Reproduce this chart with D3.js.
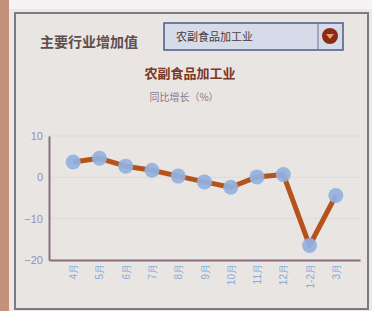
<!DOCTYPE html>
<html>
<head>
<meta charset="utf-8">
<script src="https://cdn.jsdelivr.net/npm/d3@7"></script>
<style>
  body { margin: 0; background: #efeceb; }
  svg { display: block; font-family: "Noto Sans CJK SC", sans-serif; }
</style>
</head>
<body>
<svg width="372" height="311"></svg>
<script>
let months = ["4月", "5月", "6月", "7月", "8月", "9月", "10月", "11月", "12月", "1-2月", "3月"];
let growth = [3.7, 4.6, 2.7, 1.7, 0.3, -1.1, -2.4, 0.1, 0.7, -16.5, -4.4];
let yTicks = [10, 0, -10, -20];
let industry = "农副食品加工业";

var svg = d3.select("svg"),
    width = +svg.attr("width"),
    height = +svg.attr("height");

// page frame
svg.append("rect").attr("width", width).attr("height", height).attr("fill", "#ece8e6");
svg.append("rect").attr("width", width).attr("height", 9).attr("fill", "#f6f4f2");
svg.append("rect").attr("x", 0).attr("y", 0).attr("width", 9).attr("height", height).attr("fill", "#c4917a");
svg.append("rect")
    .attr("x", 15).attr("y", 13)
    .attr("width", 353).attr("height", 296)
    .attr("fill", "#e9e5e3")
    .attr("stroke", "#7c7a80")
    .attr("stroke-width", 2);

// selector row
svg.append("text")
    .attr("x", 40).attr("y", 47)
    .attr("font-size", 14).attr("font-weight", "bold")
    .attr("fill", "#5e4e4c")
    .text("主要行业增加值");

svg.append("rect")
    .attr("x", 164).attr("y", 23)
    .attr("width", 179).attr("height", 27)
    .attr("fill", "#d6dbe9")
    .attr("stroke", "#4c5a88")
    .attr("stroke-width", 1.5);
svg.append("line")
    .attr("x1", 318).attr("x2", 318).attr("y1", 23).attr("y2", 50)
    .attr("stroke", "#6a7494");
svg.append("text")
    .attr("x", 176).attr("y", 41)
    .attr("font-size", 11)
    .attr("fill", "#4a3c40")
    .text(industry);
svg.append("circle")
    .attr("cx", 330).attr("cy", 36).attr("r", 8)
    .attr("fill", "#8a2c14");
svg.append("path")
    .attr("d", "M326,34 L334,34 L330,39 Z")
    .attr("fill", "#f0a070");

// titles
svg.append("text")
    .attr("x", 190).attr("y", 78)
    .attr("text-anchor", "middle")
    .attr("font-size", 13).attr("font-weight", "bold")
    .attr("fill", "#7a3828")
    .text(industry);
svg.append("text")
    .attr("x", 184).attr("y", 101)
    .attr("text-anchor", "middle")
    .attr("font-size", 10)
    .attr("fill", "#8a7a8c")
    .text("同比增长（%）");

// chart
let x = d3.scalePoint()
    .domain(months)
    .range([49, 360])
    .padding(0.92);

let y = d3.scaleLinear()
    .domain([-20, 10])
    .range([260, 136]);

svg.append("g")
    .selectAll("line")
    .data(yTicks)
    .enter().append("line")
    .attr("x1", 49).attr("x2", 360)
    .attr("y1", d => y(d)).attr("y2", d => y(d))
    .attr("stroke", "#dfdbda")
    .attr("stroke-width", 1);

let yAxis = svg.append("g")
    .attr("transform", "translate(49,0)")
    .call(d3.axisLeft(y).tickValues(yTicks).tickSize(0).tickPadding(6));
yAxis.select(".domain").attr("stroke", "#8a6e7e").attr("stroke-width", 2);
yAxis.selectAll("text").attr("font-size", 11).attr("fill", "#9490b4");

let xAxis = svg.append("g")
    .attr("transform", "translate(0,260)")
    .call(d3.axisBottom(x).tickSize(0).tickPadding(0));
xAxis.select(".domain").attr("stroke", "#8a6e7e").attr("stroke-width", 2);
xAxis.selectAll("text")
    .attr("font-size", 10)
    .attr("fill", "#86acd8")
    .attr("text-anchor", "end")
    .attr("y", 0)
    .attr("dy", "0.35em")
    .attr("transform", "translate(0,4) rotate(-90)");

let line = d3.line()
    .x((d, i) => x(months[i]))
    .y(d => y(d));

svg.append("path")
    .datum(growth)
    .attr("fill", "none")
    .attr("stroke", "#b5531d")
    .attr("stroke-width", 5)
    .attr("stroke-linejoin", "round")
    .attr("d", line);

svg.append("g")
    .selectAll("circle")
    .data(growth)
    .enter().append("circle")
    .attr("cx", (d, i) => x(months[i]))
    .attr("cy", d => y(d))
    .attr("r", 7.5)
    .attr("fill", "#92b2e0")
    .attr("fill-opacity", 0.92);
</script>
</body>
</html>
